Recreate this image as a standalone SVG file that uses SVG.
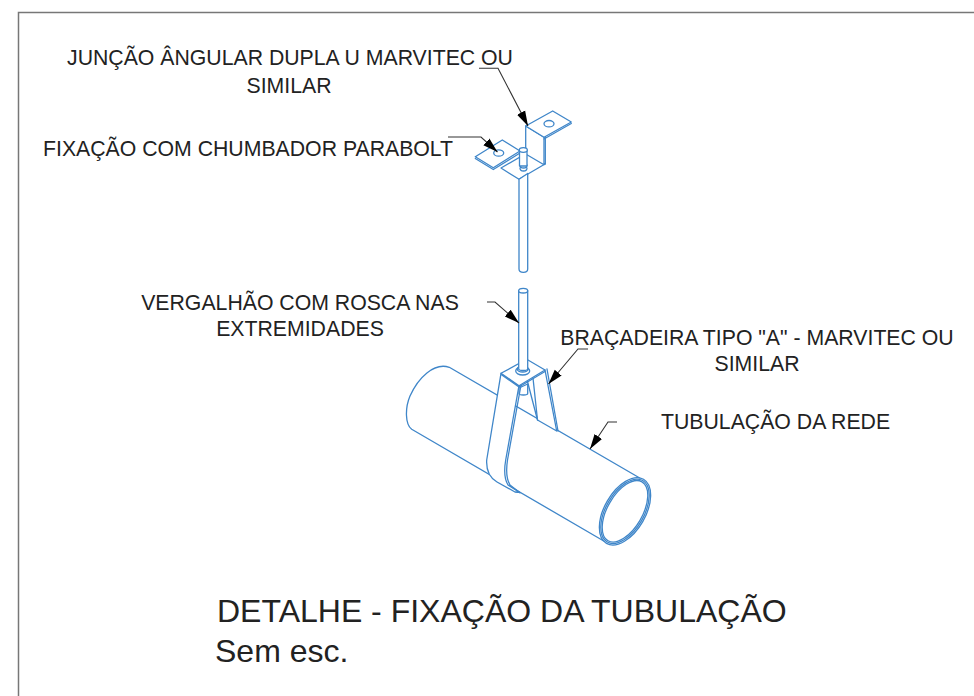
<svg xmlns="http://www.w3.org/2000/svg" width="974" height="696" viewBox="0 0 974 696">
<defs>
<marker id="ah" markerUnits="userSpaceOnUse" markerWidth="16" markerHeight="10" refX="15" refY="5" orient="auto"><path d="M0,0.5 L15,5 L0,9.5 Z" fill="#000"/></marker>
</defs>
<style>
text{font-family:"Liberation Sans",Arial,sans-serif;fill:#222;font-size:21.25px}
.m{text-anchor:middle}
.b{fill:#fff;stroke:#3f86c9;stroke-width:1.3;stroke-linejoin:round;stroke-linecap:round}
.n{fill:none;stroke:#3f86c9;stroke-width:1.3;stroke-linejoin:round;stroke-linecap:round}
.l{fill:none;stroke:#333;stroke-width:1.1}
</style>
<rect width="974" height="696" fill="#fff"/>
<path d="M18.500,696V12.500H974" fill="none" stroke="#777" stroke-width="1.5"/>
<g id="pipe">
<path d="M449.300,367.300L639.300,477.700L603.300,540.700L411.700,429.300C405,424 405,408 410,396C418,378 434,362 449.300,367.300Z" fill="#fff"/>
<path class="n" d="M639.300,477.700L449.300,367.300C434,362 418,378 410,396C405,408 405,424 411.700,429.300L603.300,540.700"/>
<ellipse class="n" cx="625" cy="511.300" rx="20.500" ry="37" transform="rotate(30 625 511.300)"/>
<ellipse class="n" cx="625" cy="511.300" rx="19" ry="35.500" transform="rotate(30 625 511.300)"/>
<ellipse class="n" cx="625" cy="511.300" rx="17.500" ry="34" transform="rotate(30 625 511.300)"/>
</g>
<g id="clamp">
<path class="b" d="M525,372L545,370L556.700,431L537.500,420Z"/>
<path class="n" d="M547,369L558,431"/>
<path class="n" d="M533,378L537.500,420"/>
<path class="b" d="M519,388V393.500C519,395.500 527.700,395.500 527.700,393.500V384Z"/>
<path class="b" d="M501,373.300L486.700,460C486,472 490,478 497,482L515,492C521,493 518,492 520,492.700L508,485C505,480 504,470 505.700,460L519,385.700Z"/>
<path class="n" d="M521,385L507.500,460C506,470 507,480 510,485L520,492.700"/>
<path class="b" d="M501,373.300L526.700,359.300L545,370L519,385.700Z"/>
<path class="n" d="M501.500,374.800L519,387L545,371.500"/>
</g>
<g id="rod-lower">
<ellipse class="b" cx="522.700" cy="371" rx="7" ry="4"/>
<ellipse class="n" cx="522.700" cy="369" rx="5.500" ry="3"/>
<path class="b" d="M518.700,290.700V369C518.700,371 527.700,371 527.700,369V290.700Z"/>
<ellipse class="b" cx="523.200" cy="290.700" rx="4.500" ry="2.300"/>
</g>
<g id="bracket">
<path class="b" d="M501,168L527,153L545,164L519,179.300Z"/>
<path class="b" d="M525.700,126L544,137.300V164.700L525.700,154Z"/>
<path class="n" d="M545.300,137.300V164"/>
<path class="b" d="M525.700,126L552.700,111L571.300,122L544,137.300Z"/>
<path class="n" d="M544,139L571.300,123.500"/>
<path class="b" d="M475.300,156.700L502.300,140L520,151L493.300,167.700Z"/>
<path class="n" d="M475.300,158.500L493.300,169.500L520,153"/>
<ellipse class="n" cx="549" cy="123.700" rx="5" ry="3.200"/>
<ellipse class="n" cx="498.700" cy="153" rx="5" ry="3.200"/>
</g>
<g id="rod-upper">
<path class="b" d="M519,179.300V269C519,273.500 527.700,273.500 527.700,269V173.500L519,179.300Z"/>
<path class="n" d="M520,168C520,172 527,172 527,168M520,165C520,169 527,169 527,165"/>
<path class="b" d="M519.500,150V166L527,166V150Z"/>
<ellipse class="b" cx="523.300" cy="150" rx="4" ry="2.300"/>
</g>
<g id="connectors">
<path class="l" d="M479,68.300H498L528,126" marker-end="url(#ah)"/>
<path class="l" d="M448,137H481L497.500,152" marker-end="url(#ah)"/>
<path class="l" d="M487,302H495L519,323" marker-end="url(#ah)"/>
<path class="l" d="M588,349H578L548.500,384" marker-end="url(#ah)"/>
<path class="l" d="M617,422H608L590,449" marker-end="url(#ah)"/>
</g>
<g id="labels">
<text class="m" x="290" y="65">JUNÇÃO ÂNGULAR DUPLA U MARVITEC OU</text>
<text class="m" x="289" y="93">SIMILAR</text>
<text x="43" y="156">FIXAÇÃO COM CHUMBADOR PARABOLT</text>
<text class="m" x="300" y="310">VERGALHÃO COM ROSCA NAS</text>
<text class="m" x="300" y="336">EXTREMIDADES</text>
<text class="m" x="757" y="345">BRAÇADEIRA TIPO "A" - MARVITEC OU</text>
<text class="m" x="757" y="371">SIMILAR</text>
<text x="661" y="429">TUBULAÇÃO DA REDE</text>
<text x="217" y="622" style="font-size:32px">DETALHE - FIXAÇÃO DA TUBULAÇÃO</text>
<text x="215" y="662" style="font-size:32px">Sem esc.</text>
</g>
</svg>
